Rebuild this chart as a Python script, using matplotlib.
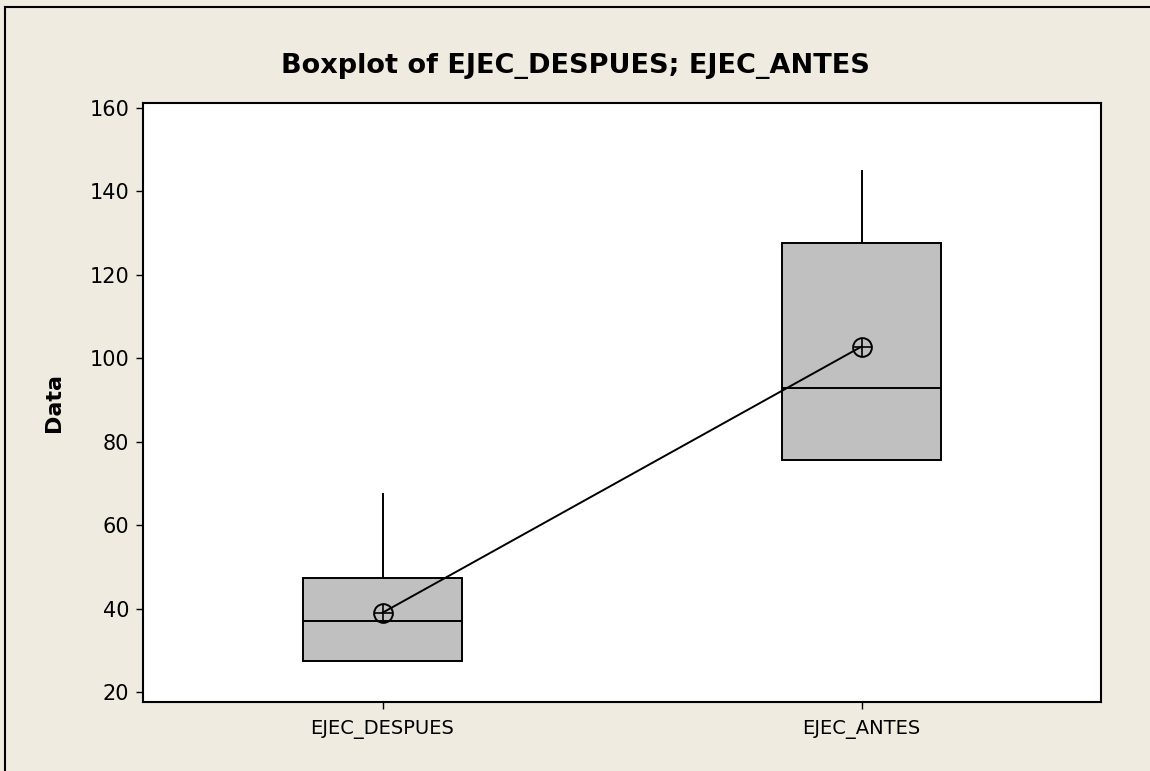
import matplotlib
matplotlib.use("Agg")
import matplotlib.pyplot as plt
from matplotlib.lines import Line2D

# Data
categories = ["EJEC_DESPUES", "EJEC_ANTES"]
q1 = [27.5, 75.5]
medians = [37.1, 92.8]
q3 = [47.3, 127.7]
whisk_lo = [27.5, 75.5]
whisk_hi = [67.4, 145.0]
means = [39.0, 102.8]
yticks = [20, 40, 60, 80, 100, 120, 140, 160]

bg = "#EFEBE1"
fig = plt.figure(figsize=(11.5, 7.71), dpi=100, facecolor=bg)
ax = fig.add_axes([143/1150, 1 - 702/771, (1101-143)/1150, (702-103)/771])
ax.set_facecolor("white")

positions = [1, 2]
stats = []
for i, c in enumerate(categories):
    stats.append(dict(label=c, med=medians[i], q1=q1[i], q3=q3[i],
                      whislo=whisk_lo[i], whishi=whisk_hi[i], mean=means[i], fliers=[]))

ax.bxp(stats, positions=positions, widths=0.334, patch_artist=True,
       showcaps=False, showfliers=False, showmeans=False,
       boxprops=dict(facecolor="#C0C0C0", edgecolor="black", linewidth=1.4),
       medianprops=dict(color="black", linewidth=1.4),
       whiskerprops=dict(color="black", linewidth=1.4))

ax.plot(positions, means, color="black", linewidth=1.4, zorder=4)
ax.plot(positions, means, linestyle="none", marker="o", markersize=13.5,
        markerfacecolor="none", markeredgecolor="black", markeredgewidth=1.4, zorder=5)
ax.plot(positions, means, linestyle="none", marker="+", markersize=13.5,
        markeredgecolor="black", markeredgewidth=1.2, zorder=5)

ax.set_xlim(0.5, 2.5)
ax.set_ylim(17.6, 161.2)
ax.set_yticks(yticks)
ax.set_xticks(positions)
ax.set_xticklabels(categories)
ax.tick_params(axis="both", direction="out", length=5, width=1, labelsize=14)
ax.tick_params(axis="y", pad=5, labelsize=15)
ax.tick_params(axis="x", pad=8)
for s in ax.spines.values():
    s.set_linewidth(1.5)

ax.set_ylabel("Data", fontsize=16, fontweight="bold", labelpad=18)
fig.text(0.5, 1 - 73/771, "Boxplot of EJEC_DESPUES; EJEC_ANTES", ha="center",
         va="baseline", fontsize=19.5, fontweight="bold")

# Figure frame (top and left edges visible)
fig.add_artist(Line2D([5/1150, 1.0], [1 - 7/771, 1 - 7/771], color="black", linewidth=1.5,
                      transform=fig.transFigure))
fig.add_artist(Line2D([5/1150, 5/1150], [0.0, 1 - 7/771], color="black", linewidth=1.5,
                      transform=fig.transFigure))

fig.savefig("out.png", dpi=100, facecolor=bg)
